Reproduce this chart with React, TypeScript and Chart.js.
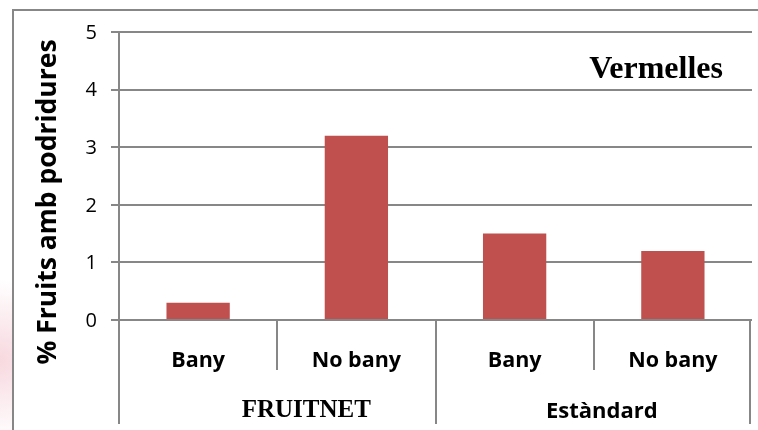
import React, { useEffect, useRef } from "react";
import { Chart, registerables } from "chart.js";

Chart.register(...registerables);

const categories = ["Bany", "No bany", "Bany", "No bany"];
const values = [0.3, 3.2, 1.5, 1.2];
const groups = ["FRUITNET", "Estàndard"];
const groupSizes = [2, 2];
const yTicks = [0, 1, 2, 3, 4, 5];
const yTitle = "% Fruits amb podridures";
const panelTitle = "Vermelles";

const GRAY = "#878787";
const BAR = "#C0504D";

const decorPlugin = {
  id: "decor",
  beforeDraw(chart: any) {
    const ctx = chart.ctx;
    ctx.save();
    ctx.fillStyle = "#ffffff";
    ctx.fillRect(0, 0, chart.width, chart.height);
    // faint pink glow at lower left
    const g = ctx.createRadialGradient(0, 360, 0, 0, 360, 80);
    g.addColorStop(0, "rgba(238,170,185,0.45)");
    g.addColorStop(1, "rgba(238,170,185,0)");
    ctx.fillStyle = g;
    ctx.fillRect(0, 270, 13, 160);
    // outer border
    ctx.strokeStyle = GRAY;
    ctx.lineWidth = 2;
    ctx.beginPath();
    ctx.moveTo(13, chart.height + 5);
    ctx.lineTo(13, 10);
    ctx.lineTo(chart.width + 5, 10);
    ctx.stroke();
    ctx.restore();
  },
  afterDraw(chart: any) {
    const ctx = chart.ctx;
    const area = chart.chartArea;
    const xs = chart.scales.x;
    const n = categories.length;
    const centers = categories.map((_, i) => xs.getPixelForTick(i));
    const step = n > 1 ? centers[1] - centers[0] : area.right - area.left;
    const bounds: number[] = [];
    for (let i = 0; i <= n; i++) bounds.push(centers[0] - step / 2 + i * step);
    const bottom = chart.height - 6;
    ctx.save();
    ctx.strokeStyle = GRAY;
    ctx.lineWidth = 2;
    const groupEnds = new Set<number>();
    let acc = 0;
    groupSizes.forEach((s) => {
      acc += s;
      groupEnds.add(acc);
    });
    for (let i = 0; i <= n; i++) {
      const x = Math.round(i === n ? bounds[i] - 2 : bounds[i]);
      const long = i === 0 || groupEnds.has(i);
      ctx.beginPath();
      ctx.moveTo(x, i === 0 ? area.top : area.bottom);
      ctx.lineTo(x, long ? bottom : area.bottom + 50);
      ctx.stroke();
    }
    // group labels
    ctx.fillStyle = "#000";
    ctx.textAlign = "center";
    ctx.textBaseline = "alphabetic";
    let start = 0;
    groups.forEach((gname, gi) => {
      const end = start + groupSizes[gi];
      const cx = (bounds[start] + bounds[end]) / 2;
      if (gi === 0) {
        ctx.font = "bold 25px 'Liberation Serif'";
        ctx.fillText(gname, cx + 29, 417);
      } else {
        ctx.font = "bold 22px 'Open Sans'";
        ctx.fillText(gname, cx + 8, 418);
      }
      start = end;
    });
    // panel title
    ctx.font = "bold 32px 'Liberation Serif'";
    ctx.textAlign = "right";
    ctx.fillText(panelTitle, area.right - 29, 78);
    // y axis title
    ctx.translate(48, 202);
    ctx.rotate(-Math.PI / 2);
    ctx.textAlign = "center";
    ctx.textBaseline = "middle";
    ctx.font = "bold 26.5px 'Open Sans'";
    ctx.fillText(yTitle, 0, 0);
    ctx.restore();
  },
};

export default function App() {
  const ref = useRef<HTMLCanvasElement | null>(null);
  useEffect(() => {
    if (!ref.current) return;
    const chart = new Chart(ref.current, {
      type: "bar",
      data: {
        labels: categories,
        datasets: [
          {
            data: values,
            backgroundColor: BAR,
            borderWidth: 0,
            barPercentage: 0.4,
            categoryPercentage: 1,
          },
        ],
      },
      options: {
        animation: false,
        responsive: false,
        maintainAspectRatio: false,
        layout: { padding: { top: 32, right: 6, left: 0, bottom: 0 } },
        plugins: { legend: { display: false }, tooltip: { enabled: false } },
        scales: {
          x: {
            grid: { display: false },
            border: { display: false },
            ticks: {
              color: "#000",
              font: { family: "'Open Sans'", size: 21.5, weight: "bold" },
              padding: 20,
              maxRotation: 0,
              autoSkip: false,
            },
            afterFit: (s: any) => {
              s.height = 110;
            },
          },
          y: {
            min: 0,
            max: 5,
            afterBuildTicks: (s: any) => {
              s.ticks = yTicks.map((v) => ({ value: v }));
            },
            grid: { color: GRAY, lineWidth: 2, tickLength: 8, drawTicks: true },
            border: { display: false },
            ticks: {
              color: "#000",
              font: { family: "'Open Sans'", size: 20 },
              padding: 14,
              labelOffset: 1,
            },
            afterFit: (s: any) => {
              s.width = 119;
            },
          },
        },
      },
      plugins: [decorPlugin],
    });
    return () => chart.destroy();
  }, []);
  return (
    <div style={{ position: "absolute", left: 0, top: 0, width: 758, height: 430 }}>
      <canvas ref={ref} width={758} height={430} style={{ width: 758, height: 430 }} />
    </div>
  );
}
